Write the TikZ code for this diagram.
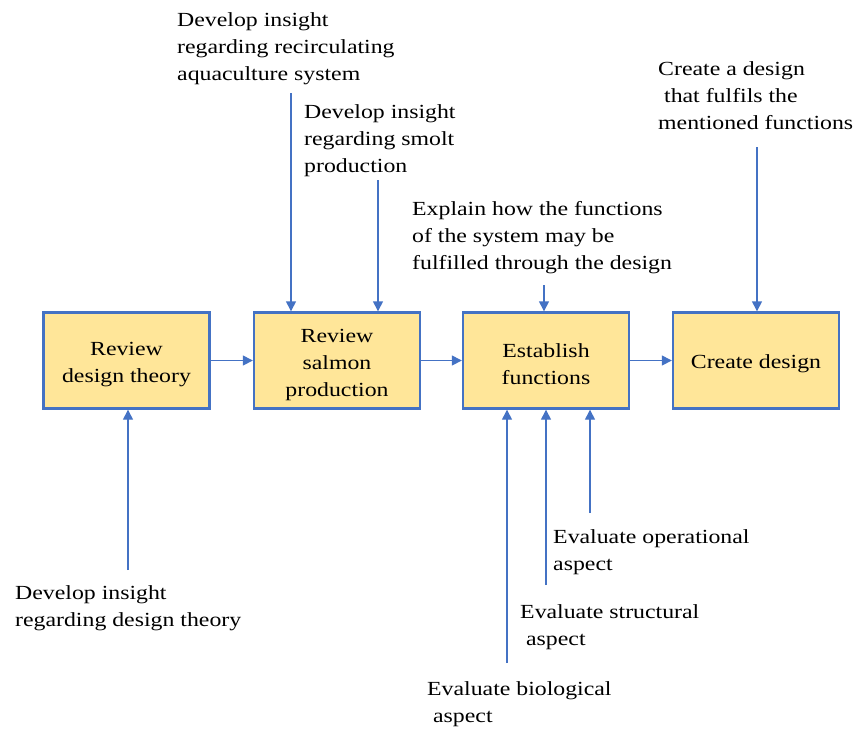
\documentclass[tikz,border=0pt]{standalone}
\usepackage{fontspec}
\setmainfont{Liberation Serif}[FakeStretch=1.19]
\usetikzlibrary{arrows.meta}
\definecolor{boxblue}{HTML}{4472C4}
\definecolor{boxfill}{HTML}{FFE699}
\begin{document}
\begin{tikzpicture}[x=1pt,y=-1pt,
  stage/.style={draw=boxblue, line width=2.4pt, fill=boxfill,
    minimum width=166pt, minimum height=96pt, inner sep=0pt},
  stagetext/.style={align=center, inner sep=0pt,
    font=\fontsize{20}{27}\selectfont},
  note/.style={anchor=north west, align=left, inner sep=0pt,
    font=\fontsize{20}{27}\selectfont},
  flow/.style={draw=boxblue, line width=1.4pt,
    -{Triangle[length=10pt,width=10pt]}}]
\useasboundingbox (0,0) rectangle (853,729);

% process stages
\node[stage] (b1) at (126.5,360.5) {};
\node[stage] (b2) at (337,360.5) {};
\node[stage] (b3) at (546,360.5) {};
\node[stage] (b4) at (756,360.5) {};
\node[stagetext] (b1t) at ([yshift=-4.5pt]b1.center) {Review\\design theory};
\node[stagetext] (b2t) at ([yshift=-4pt]b2.center) {Review\\salmon\\production};
\node[stagetext] (b3t) at ([yshift=-4pt]b3.center) {Establish\\functions};
\node[stagetext] (b4t) at ([yshift=-3pt]b4.center) {Create design};

% flow between stages
\draw[flow] (b1) -- (b2);
\draw[flow] (b2) -- (b3);
\draw[flow] (b3) -- (b4);

% inputs from above
\node[note] (tA) at (177,12.3) {Develop insight\\regarding recirculating\\aquaculture system};
\node[note] (tB) at (304,104.3) {Develop insight\\regarding smolt\\production};
\node[note] (tC) at (412,201) {Explain how the functions\\of the system may be\\fulfilled through the design};
\node[note] (tD) at (658,61) {Create a design\\\ that fulfils the\\mentioned functions};

\coordinate (sA) at (291,93);
\coordinate (sB) at (378,180);
\coordinate (sC) at (544,285);
\coordinate (sD) at (757,147);
\draw[flow] (sA) -- (sA |- b2.north);
\draw[flow] (sB) -- (sB |- b2.north);
\draw[flow] (sC) -- (sC |- b3.north);
\draw[flow] (sD) -- (sD |- b4.north);

% inputs from below
\node[note] (tE) at (15,585) {Develop insight\\regarding design theory};
\node[note] (tF) at (553,529) {Evaluate operational\\aspect};
\node[note] (tG) at (520,604) {Evaluate structural\\\ aspect};
\node[note] (tH) at (427,681) {Evaluate biological\\\ aspect};

\coordinate (sE) at (128,570);
\coordinate (sF) at (590,513);
\coordinate (sG) at (546,585);
\coordinate (sH) at (507,663);
\draw[flow] (sE) -- (sE |- b1.south);
\draw[flow] (sF) -- (sF |- b3.south);
\draw[flow] (sG) -- (sG |- b3.south);
\draw[flow] (sH) -- (sH |- b3.south);
\end{tikzpicture}
\end{document}
